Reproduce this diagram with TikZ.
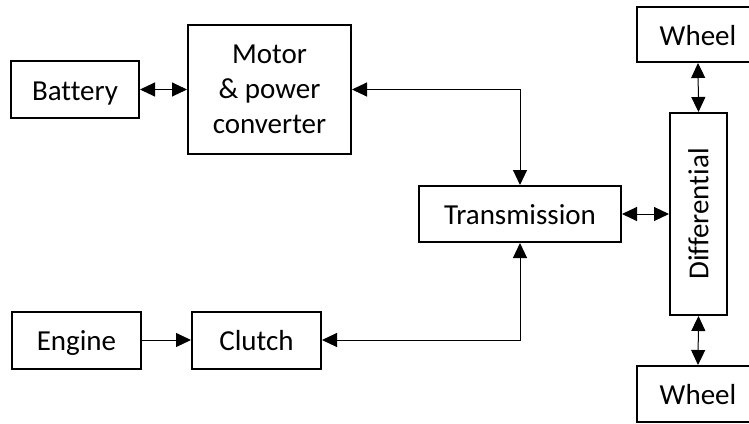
\documentclass[tikz,border=0pt]{standalone}
\usepackage{fontspec}
\setmainfont[Ligatures=NoCommon]{Carlito}
\usepackage{graphicx}
\usepackage{tikz}
\usetikzlibrary{arrows.meta, positioning}

\begin{document}
\begin{tikzpicture}[x=0.5pt, y=-0.5pt, >={Triangle[length=7.5pt, width=7pt]},
    block/.style={draw, line width=1pt, inner sep=0pt, align=center,
        font=\fontsize{14.5}{17.5}\selectfont},
    oneline/.style={block, text height=10.8pt, text depth=0pt},
    link/.style={line width=0.5pt}]
    \clip (0,0) rectangle (749,423);
    % blocks
    \node[oneline, minimum width=64pt, minimum height=28.5pt] (battery) at (75,89.5) {Battery};
    \node[block, minimum width=81.5pt, minimum height=64.5pt] (motor) at (269.5,89.5) {Motor\\\& power\\converter};
    \node[oneline, minimum width=101pt, minimum height=28pt] (trans) at (520,214) {Transmission};
    \node[block, minimum width=28.5pt, minimum height=101pt] (diff) at (698.5,214) {\rotatebox{90}{Differential}};
    \node[oneline, minimum width=61pt, minimum height=27.5pt] (wheeltop) at (698,34.5) {Wheel};
    \node[oneline, minimum width=61pt, minimum height=28pt] (wheelbot) at (698,394) {Wheel};
    \node[oneline, minimum width=64.5pt, minimum height=28.5pt] (engine) at (76.5,340) {Engine};
    \node[oneline, minimum width=64.5pt, minimum height=28.5pt] (clutch) at (256.5,340) {Clutch};
    % connectors
    \draw[link, <->] (battery.east) -- (motor.west);
    \draw[link, <->] (motor.east) -| (trans.north);
    \draw[link, ->] (engine.east) -- (clutch.west);
    \draw[link, <->] (clutch.east) -| (trans.south);
    \draw[link, <->] (trans.east) -- (diff.west);
    \draw[link, <->] (wheeltop.south) -- (diff.north);
    \draw[link, <->] (diff.south) -- (wheelbot.north);
\end{tikzpicture}
\end{document}
